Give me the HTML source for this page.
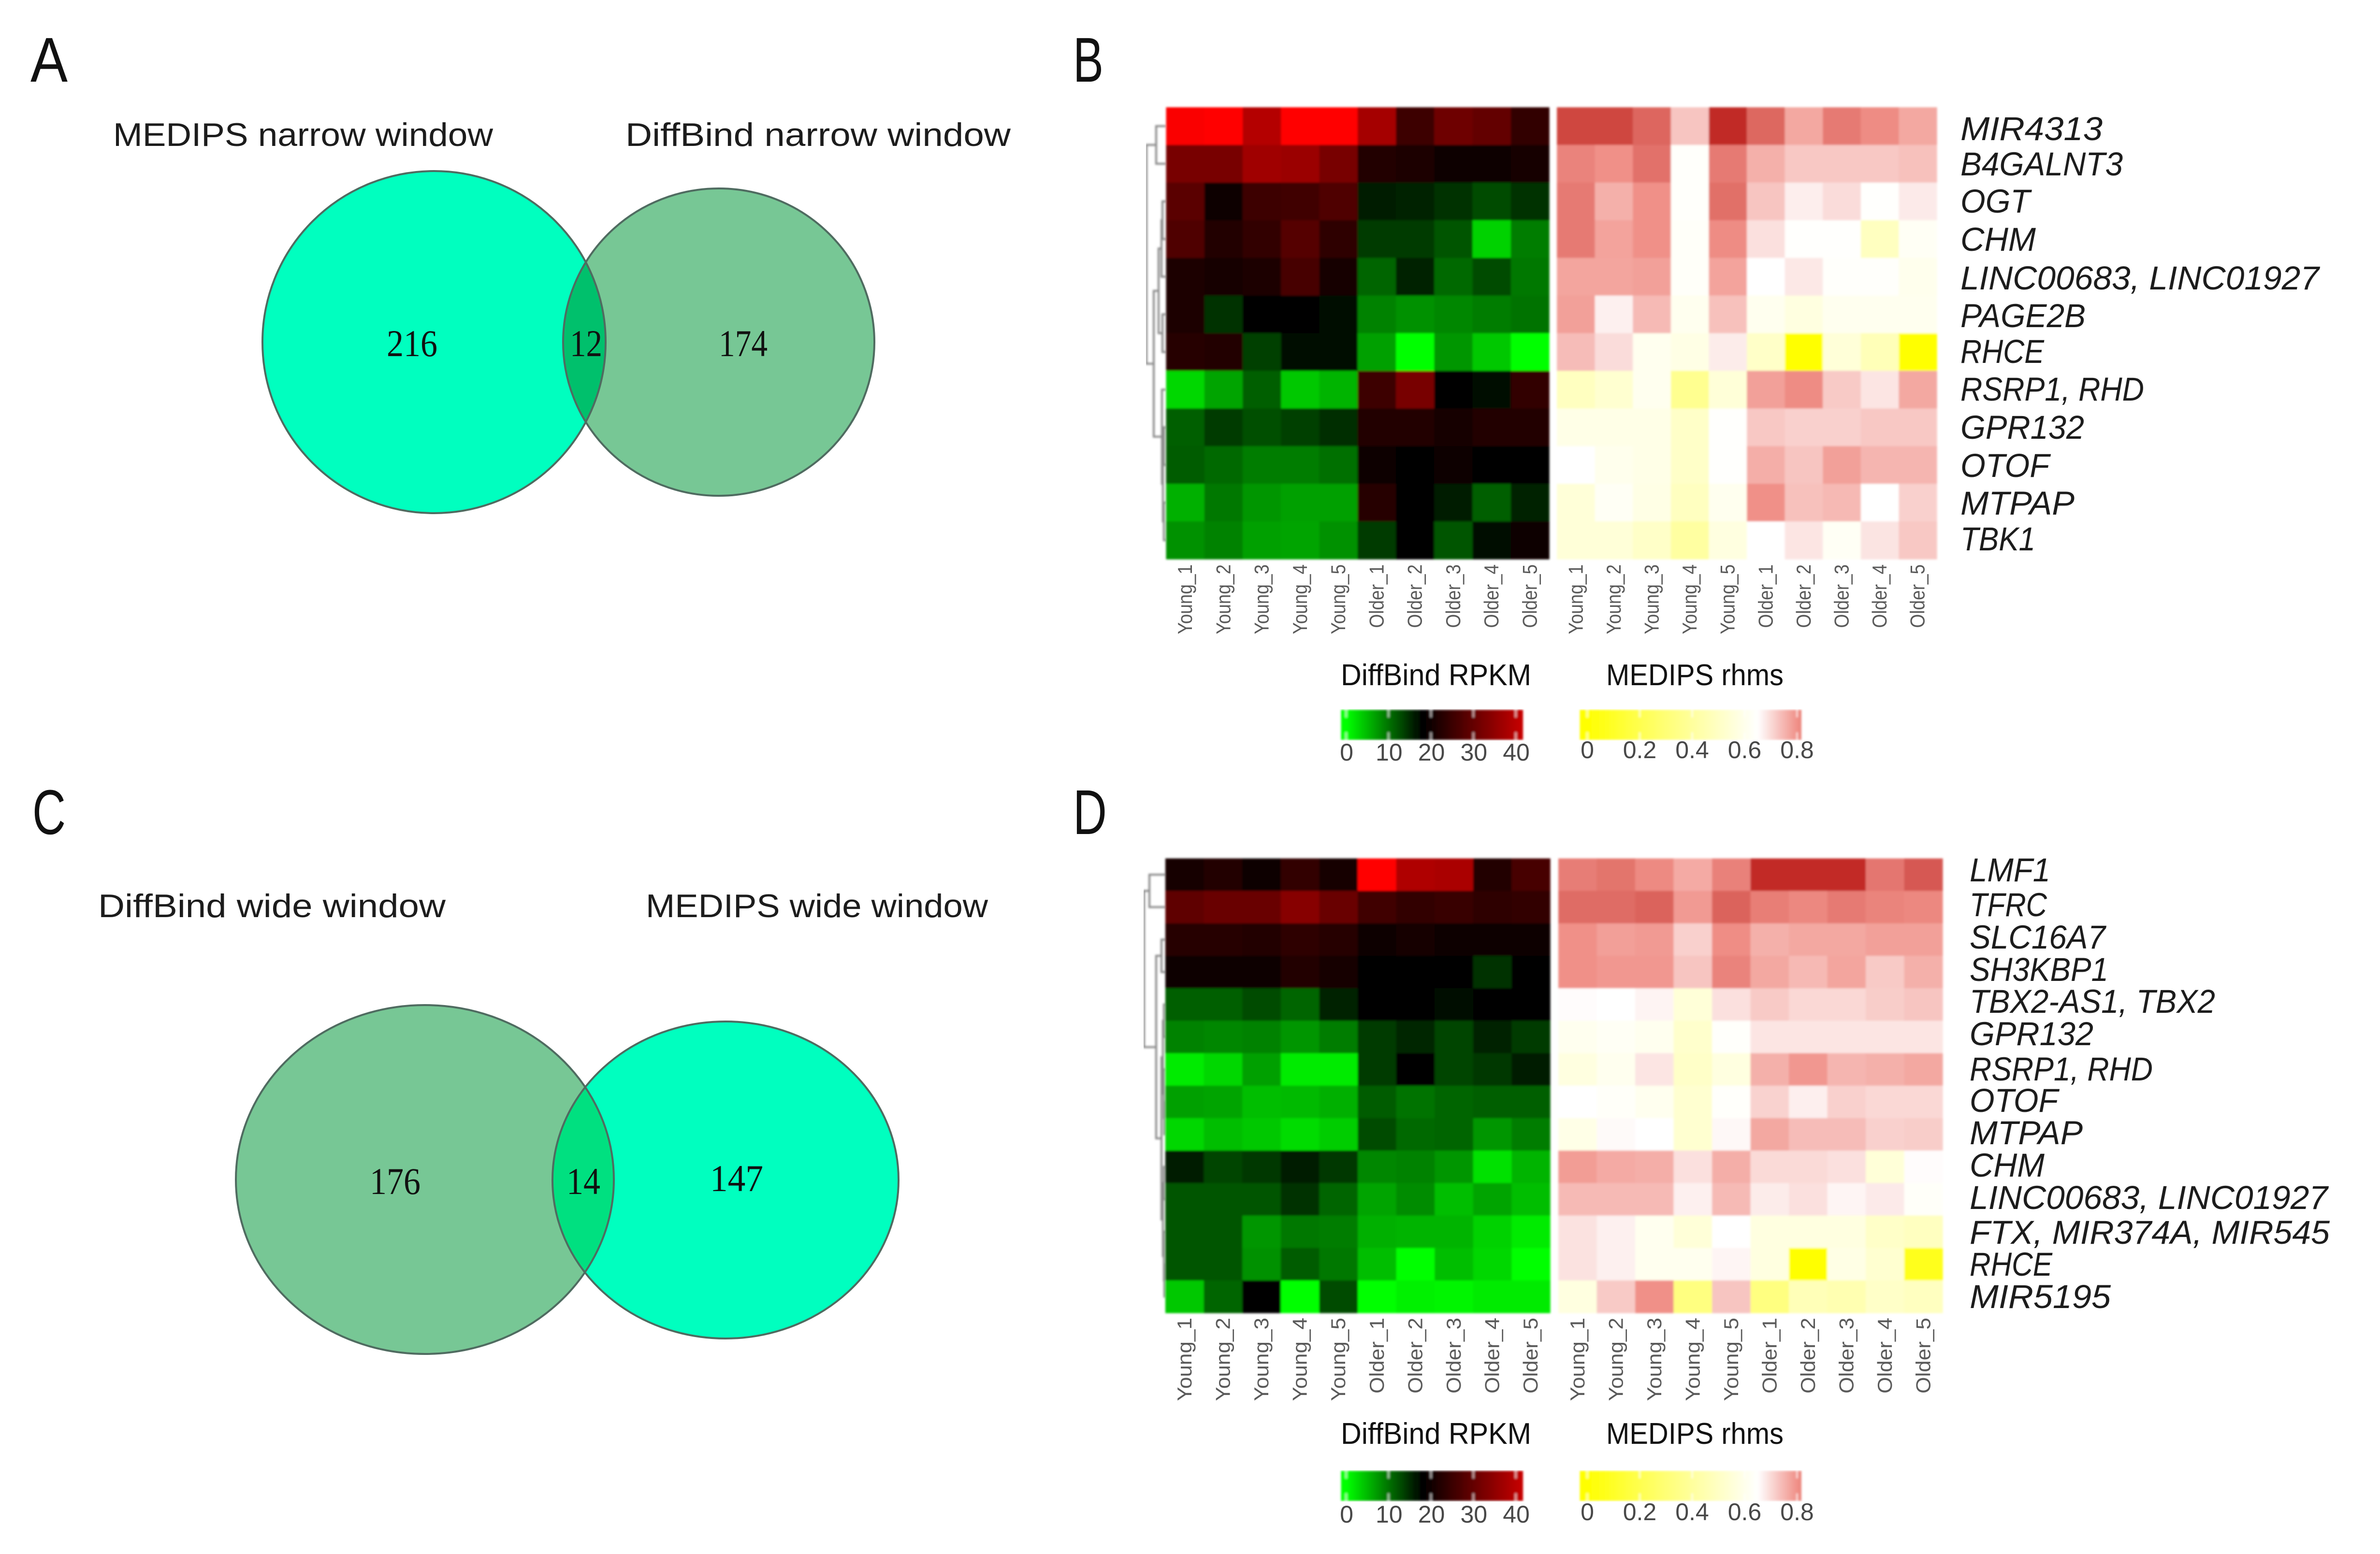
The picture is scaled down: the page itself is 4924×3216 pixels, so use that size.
<!DOCTYPE html>
<html lang="en">
<head>
<meta charset="utf-8">
<title>Venn diagrams and heatmaps of DiffBind and MEDIPS windows</title>
<style>
  html, body { margin: 0; padding: 0; background: #fff; }
  svg { display: block; }
  text { font-family: "Liberation Sans", sans-serif; }
  .panel-letter { font-size: 131px; fill: #111; }
  .venn-title { font-size: 68px; fill: #1c1c1c; }
  .venn-count { font-family: "Liberation Serif", serif; font-size: 78px; fill: #111; }
  .gene { font-size: 69px; font-style: italic; fill: #1c1c1c; }
  .legend-title { font-size: 62px; fill: #111; }
  .legend-tick { font-size: 50px; fill: #484848; text-anchor: middle; }
  .col-label { font-size: 42px; fill: #5a5a5a; text-anchor: end; }
</style>
</head>
<body>
<svg id="figure" xmlns="http://www.w3.org/2000/svg" width="4924" height="3216" viewBox="0 0 4924 3216">
  <defs>
    <filter id="soft" x="-2%" y="-2%" width="104%" height="104%"><feGaussianBlur stdDeviation="2.2"/></filter>
    <clipPath id="clip-a"><ellipse cx="898" cy="708" rx="355" ry="354"/></clipPath>
    <clipPath id="clip-c"><ellipse cx="879" cy="2441" rx="391" ry="361"/></clipPath>
  </defs>
  <rect width="4924" height="3216" fill="#fff"/>

  <text class="panel-letter" x="63" y="169" textLength="77" lengthAdjust="spacingAndGlyphs">A</text>
  <text class="panel-letter" x="2220" y="169" textLength="63" lengthAdjust="spacingAndGlyphs">B</text>
  <text class="panel-letter" x="67" y="1726" textLength="69" lengthAdjust="spacingAndGlyphs">C</text>
  <text class="panel-letter" x="2220" y="1726" textLength="70" lengthAdjust="spacingAndGlyphs">D</text>

  <!-- Venn A -->
  <g>
    <text class="venn-title" x="234" y="302" textLength="786" lengthAdjust="spacingAndGlyphs">MEDIPS narrow window</text>
    <text class="venn-title" x="1294" y="302" textLength="797" lengthAdjust="spacingAndGlyphs">DiffBind narrow window</text>
    <ellipse cx="898" cy="708" rx="355" ry="354" fill="#00ffbf"/>
    <ellipse cx="1487" cy="708" rx="322" ry="318" fill="#77c795"/>
    <ellipse cx="1487" cy="708" rx="322" ry="318" fill="#00c06c" clip-path="url(#clip-a)"/>
    <ellipse cx="898" cy="708" rx="355" ry="354" fill="none" stroke="#4f6b60" stroke-width="4"/>
    <ellipse cx="1487" cy="708" rx="322" ry="318" fill="none" stroke="#4f6b60" stroke-width="4"/>
    <text class="venn-count" x="800" y="737" textLength="105" lengthAdjust="spacingAndGlyphs">216</text>
    <text class="venn-count" x="1179" y="737" textLength="67" lengthAdjust="spacingAndGlyphs">12</text>
    <text class="venn-count" x="1487" y="737" textLength="101" lengthAdjust="spacingAndGlyphs">174</text>
  </g>

  <!-- Venn C -->
  <g>
    <text class="venn-title" x="203" y="1898" textLength="719" lengthAdjust="spacingAndGlyphs">DiffBind wide window</text>
    <text class="venn-title" x="1336" y="1898" textLength="708" lengthAdjust="spacingAndGlyphs">MEDIPS wide window</text>
    <ellipse cx="879" cy="2441" rx="391" ry="361" fill="#77c795"/>
    <ellipse cx="1501" cy="2442" rx="358" ry="328" fill="#00ffbf"/>
    <ellipse cx="1501" cy="2442" rx="358" ry="328" fill="#00e080" clip-path="url(#clip-c)"/>
    <ellipse cx="879" cy="2441" rx="391" ry="361" fill="none" stroke="#4f6b60" stroke-width="4"/>
    <ellipse cx="1501" cy="2442" rx="358" ry="328" fill="none" stroke="#4f6b60" stroke-width="4"/>
    <text class="venn-count" x="765" y="2471" textLength="105" lengthAdjust="spacingAndGlyphs">176</text>
    <text class="venn-count" x="1172" y="2471" textLength="70" lengthAdjust="spacingAndGlyphs">14</text>
    <text class="venn-count" x="1469" y="2465" textLength="110" lengthAdjust="spacingAndGlyphs">147</text>
  </g>

  <!-- Gene labels B -->
  <g>
    <text class="gene" x="4056" y="290" textLength="294" lengthAdjust="spacingAndGlyphs">MIR4313</text>
    <text class="gene" x="4056" y="363" textLength="336" lengthAdjust="spacingAndGlyphs">B4GALNT3</text>
    <text class="gene" x="4056" y="440" textLength="144" lengthAdjust="spacingAndGlyphs">OGT</text>
    <text class="gene" x="4056" y="519" textLength="156" lengthAdjust="spacingAndGlyphs">CHM</text>
    <text class="gene" x="4056" y="599" textLength="742" lengthAdjust="spacingAndGlyphs">LINC00683, LINC01927</text>
    <text class="gene" x="4056" y="677" textLength="259" lengthAdjust="spacingAndGlyphs">PAGE2B</text>
    <text class="gene" x="4056" y="751" textLength="173" lengthAdjust="spacingAndGlyphs">RHCE</text>
    <text class="gene" x="4056" y="829" textLength="380" lengthAdjust="spacingAndGlyphs">RSRP1, RHD</text>
    <text class="gene" x="4056" y="908" textLength="256" lengthAdjust="spacingAndGlyphs">GPR132</text>
    <text class="gene" x="4056" y="987" textLength="184" lengthAdjust="spacingAndGlyphs">OTOF</text>
    <text class="gene" x="4056" y="1065" textLength="236" lengthAdjust="spacingAndGlyphs">MTPAP</text>
    <text class="gene" x="4056" y="1139" textLength="155" lengthAdjust="spacingAndGlyphs">TBK1</text>
  </g>

  <!-- Gene labels D -->
  <g>
    <text class="gene" x="4075" y="1824" textLength="167" lengthAdjust="spacingAndGlyphs">LMF1</text>
    <text class="gene" x="4075" y="1896" textLength="160" lengthAdjust="spacingAndGlyphs">TFRC</text>
    <text class="gene" x="4075" y="1963" textLength="281" lengthAdjust="spacingAndGlyphs">SLC16A7</text>
    <text class="gene" x="4075" y="2030" textLength="287" lengthAdjust="spacingAndGlyphs">SH3KBP1</text>
    <text class="gene" x="4075" y="2096" textLength="508" lengthAdjust="spacingAndGlyphs">TBX2-AS1, TBX2</text>
    <text class="gene" x="4075" y="2163" textLength="256" lengthAdjust="spacingAndGlyphs">GPR132</text>
    <text class="gene" x="4075" y="2236" textLength="379" lengthAdjust="spacingAndGlyphs">RSRP1, RHD</text>
    <text class="gene" x="4075" y="2301" textLength="183" lengthAdjust="spacingAndGlyphs">OTOF</text>
    <text class="gene" x="4075" y="2368" textLength="234" lengthAdjust="spacingAndGlyphs">MTPAP</text>
    <text class="gene" x="4075" y="2435" textLength="155" lengthAdjust="spacingAndGlyphs">CHM</text>
    <text class="gene" x="4075" y="2502" textLength="741" lengthAdjust="spacingAndGlyphs">LINC00683, LINC01927</text>
    <text class="gene" x="4075" y="2574" textLength="745" lengthAdjust="spacingAndGlyphs">FTX, MIR374A, MIR545</text>
    <text class="gene" x="4075" y="2640" textLength="171" lengthAdjust="spacingAndGlyphs">RHCE</text>
    <text class="gene" x="4075" y="2707" textLength="292" lengthAdjust="spacingAndGlyphs">MIR5195</text>
  </g>

  <!-- Legend titles -->
  <text class="legend-title" x="2774" y="1418" textLength="394" lengthAdjust="spacingAndGlyphs">DiffBind RPKM</text>
  <text class="legend-title" x="3323" y="1418" textLength="367" lengthAdjust="spacingAndGlyphs">MEDIPS rhms</text>
  <text class="legend-title" x="2774" y="2988" textLength="394" lengthAdjust="spacingAndGlyphs">DiffBind RPKM</text>
  <text class="legend-title" x="3323" y="2988" textLength="367" lengthAdjust="spacingAndGlyphs">MEDIPS rhms</text>
</svg>

<script>
// ---- Data ----
const columnLabels = ["Young_1","Young_2","Young_3","Young_4","Young_5","Older_1","Older_2","Older_3","Older_4","Older_5"];

const diffbindTicks = [0, 10, 20, 30, 40];
const medipsTicks = [0, 0.2, 0.4, 0.6, 0.8];

// Panel B: DiffBind RPKM, narrow window (12 genes x 10 samples)
const diffbindNarrow = [
  [47.4,48,39.2,48,48,37.4,25.1,30.9,29.8,23.9],
  [32.1,32.1,36.8,36.2,32.1,22.1,21.5,19.2,18.9,20.9],
  [28.6,18.9,25.1,25.6,27.4,15.9,15.5,14.5,12.7,14.5],
  [27.4,22.1,23.9,28,23.3,13.8,13.8,12,3.2,9.2],
  [21.5,20.9,21.5,26.2,20.4,10.9,15.5,10.6,12.7,9.5],
  [21.5,14.5,18,18,16.9,8.8,7.8,8.5,9.2,9.9],
  [22.7,22.1,13.4,17.3,16.9,6.7,0,7.4,3.9,0],
  [2.8,6.4,11.3,3.9,5.3,25.1,32.1,18,16.9,23.9],
  [11.3,13.8,12.4,13.4,14.8,22.1,22.1,20.4,22.1,22.1],
  [11.6,10.6,9.2,9.2,10.2,18.9,18,19.8,18.6,18.4],
  [5.6,9.5,7.4,6.7,6.7,22.7,17.6,16.2,11.3,15.5],
  [7.8,8.8,6.7,6.4,7.8,13.8,18,12,16.9,19.8]
];

// Panel B: MEDIPS rhms, narrow window
const medipsNarrow = [
  [.90,.90,.858,.728,.94,.857,.768,.83,.806,.768],
  [.818,.80,.843,.64,.83,.757,.724,.724,.724,.734],
  [.83,.757,.80,.64,.845,.728,.673,.697,.645,.678],
  [.83,.775,.80,.635,.805,.692,.645,.645,.49,.625],
  [.772,.772,.778,.635,.775,.65,.681,.64,.64,.605],
  [.778,.67,.743,.61,.734,.61,.57,.61,.61,.61],
  [.74,.697,.61,.585,.676,.51,0,.55,.47,0],
  [.49,.53,.61,.367,.55,.778,.805,.722,.685,.768],
  [.59,.59,.59,.51,.645,.724,.713,.713,.724,.724],
  [.65,.605,.59,.51,.645,.76,.728,.778,.75,.75],
  [.55,.625,.585,.49,.61,.80,.734,.745,.65,.713],
  [.55,.55,.51,.41,.57,.65,.685,.625,.687,.724]
];

// Panel D: DiffBind RPKM, wide window (14 genes x 10 samples)
const diffbindWide = [
  [20.9,22.1,19.8,23.9,20.9,48,38.6,38,22.1,26.2],
  [29.2,30.3,30.3,33.9,30.3,25.6,23.9,24.5,23.3,23.9],
  [22.7,22.7,22.1,23.3,22.7,19.4,20.4,19.2,19.4,19.4],
  [19.2,19.8,19.8,22.1,20.9,18.4,18,18,14.5,17.8],
  [11.3,11.3,12.7,10.9,15.5,18.6,17.8,16.9,18,18.4],
  [8.8,8.5,8.8,7.4,9.2,13.8,15.2,13.1,15.5,13.8],
  [1.4,2.8,6.7,1.4,1.4,13.8,18.4,13.1,14.1,16.2],
  [6.7,6.4,4.6,4.9,5.6,11.6,9.9,10.9,11.3,11.3],
  [2.8,4.6,3.9,2.5,3.5,12.7,10.6,10.9,7.4,9.2],
  [15.9,13.1,14.1,15.9,14.1,8.5,8.8,7.4,2.1,5.3],
  [12,12,12,14.5,10.9,6.4,8.1,4.6,6.4,4.6],
  [12,12,7.4,9.5,9.2,5.6,5.3,5.3,3.2,1.4],
  [12,12,7.8,11.6,9.5,4.6,0,4.6,2.8,0],
  [3.9,10.9,18.4,0,12.7,0,1,0.7,1.4,1.4]
];

// Panel D: MEDIPS rhms, wide window
const medipsWide = [
  [.826,.839,.808,.765,.82,.938,.938,.938,.836,.877],
  [.85,.85,.862,.786,.862,.825,.811,.83,.817,.811],
  [.80,.78,.786,.713,.804,.757,.768,.768,.778,.778],
  [.80,.79,.79,.728,.818,.768,.745,.772,.722,.757],
  [.654,.65,.665,.55,.692,.722,.703,.703,.718,.728],
  [.61,.625,.61,.52,.64,.685,.685,.685,.685,.685],
  [.57,.61,.685,.51,.57,.757,.79,.75,.757,.768],
  [.65,.635,.61,.53,.64,.711,.672,.713,.703,.703],
  [.59,.657,.65,.53,.66,.768,.74,.74,.713,.718],
  [.783,.765,.76,.692,.76,.70,.70,.692,.55,.654],
  [.743,.743,.743,.67,.743,.676,.692,.664,.678,.635],
  [.689,.67,.61,.55,.65,.57,.57,.57,.51,.49],
  [.689,.67,.61,.61,.664,.57,0,.585,.53,.08],
  [.57,.722,.80,.327,.728,.327,.47,.45,.51,.49]
];

// Row dendrograms: [mergeHeight, childA, childB]; a bare number is a row index
const dendrogramNarrow = [40,[20,0,1],[25,[15,[9,[7,2,3],4],[7,5,6]],[8,7,[6,[4,8,9],[4,10,11]]]]];
const dendrogramWide = [44,[33,0,1],[19,[8,2,3],[8,[5,[3,4,5],[3,6,[2,7,8]]],[5,[3,9,10],[3,11,[2,12,13]]]]]];

// ---- Helpers ----
const svg = document.getElementById('figure');
const NS = 'http://www.w3.org/2000/svg';

function make(tag, attrs, parent) {
  const node = document.createElementNS(NS, tag);
  for (const key in attrs) node.setAttribute(key, attrs[key]);
  parent.appendChild(node);
  return node;
}
function linear(d0, d1, r0, r1) {
  return v => r0 + (v - d0) * (r1 - r0) / (d1 - d0);
}
function rgb(r, g, b) {
  return 'rgb(' + Math.round(r) + ',' + Math.round(g) + ',' + Math.round(b) + ')';
}
function clamp(v, lo, hi) { return Math.max(lo, Math.min(hi, v)); }

// green -> black -> red
function diffbindColor(v) {
  const x = clamp(v, 0, 48);
  if (x < 18) return rgb(0, (18 - x) * 255 / 18, 0);
  return rgb((x - 18) * 255 / 30, 0, 0);
}
// yellow -> white -> pink -> dark red
function medipsColor(v) {
  const x = clamp(v, 0, 0.95);
  if (x <= 0.65) return rgb(255, 255, 255 * x / 0.65);
  if (x <= 0.8) {
    const t = (x - 0.65) / 0.15;
    return rgb(255 - 15 * t, 255 - 111 * t, 255 - 119 * t);
  }
  const t = (x - 0.8) / 0.15;
  return rgb(240 - 50 * t, 144 - 109 * t, 136 - 106 * t);
}

function drawHeatmap(panel, series, matrix, colorFn, box) {
  const rows = matrix.length, cols = matrix[0].length;
  const xBand = linear(0, cols, box.x0, box.x1);
  const yBand = linear(0, rows, box.y0, box.y1);
  const group = make('g', { filter: 'url(#soft)' }, svg);
  
  
  matrix.forEach((row, r) => {
    row.forEach((value, c) => {
      const cell = make('rect', {
        x: xBand(c), y: yBand(r),
        width: xBand(c + 1) - xBand(c) + 0.6,
        height: yBand(r + 1) - yBand(r) + 0.6,
        fill: colorFn(value)
      }, group);
      
      
    });
  });
}

function drawColumnLabels(panel, series, box, yTop, squeeze) {
  const xBand = linear(0, columnLabels.length, box.x0, box.x1);
  columnLabels.forEach((label, c) => {
    const base = (xBand(c) + xBand(c + 1)) / 2 + 14;
    const t = make('text', {
      class: 'col-label',
      transform: 'translate(' + base + ',' + yTop + ') rotate(-90) scale(' + squeeze + ',1)'
    }, svg);
    t.textContent = label;
    
    
  });
}

function drawDendrogram(panel, tree, rowCount, box, xRight) {
  const yBand = linear(0, rowCount, box.y0, box.y1);
  const group = make('g', { fill: 'none', stroke: '#8a8a8a', 'stroke-width': 4, filter: 'url(#soft)' }, svg);
  
  
  function walk(node) {
    if (typeof node === 'number') return { x: xRight, y: yBand(node + 0.5) };
    const a = walk(node[1]);
    const b = walk(node[2]);
    const x = xRight - node[0];
    const branch = make('path', {
      d: 'M' + a.x + ' ' + a.y + 'H' + x + 'V' + b.y + 'H' + b.x
    }, group);
    
    
    return { x: x, y: (a.y + b.y) / 2 };
  }
  walk(tree);
}

function drawLegend(panel, series, colorFn, ticks, cfg) {
  const vFirst = ticks[0], vLast = ticks[ticks.length - 1];
  const xOf = linear(vFirst, vLast, cfg.tick0, cfg.tickN);
  const valueOf = linear(cfg.tick0, cfg.tickN, vFirst, vLast);
  const group = make('g', { filter: 'url(#soft)' }, svg);
  
  
  for (let x = cfg.x0; x < cfg.x1; x += 4) {
    const strip = make('rect', {
      x: x, y: cfg.y0, width: Math.min(4.6, cfg.x1 - x), height: cfg.y1 - cfg.y0,
      fill: colorFn(valueOf(x + 2))
    }, group);
    
    
  }
  ticks.forEach(v => {
    const x = xOf(v) + cfg.markOffset;
    const len = (cfg.y1 - cfg.y0) * 0.25;
    [[cfg.y0, len], [cfg.y1 - len, len]].forEach(seg => {
      const mark = make('rect', { x: x - 2, y: seg[0], width: 4, height: seg[1], fill: 'rgba(255,255,255,0.6)' }, group);
      
      
    });
    const label = make('text', { class: 'legend-tick', x: xOf(v), y: cfg.labelY }, svg);
    label.textContent = String(v);
    
    
  });
}

// ---- Panel B ----
const boxBLeft = { x0: 2412.5, x1: 3205, y0: 222, y1: 1157 };
const boxBRight = { x0: 3221, x1: 4007, y0: 222, y1: 1157 };
drawDendrogram('b', dendrogramNarrow, diffbindNarrow.length, boxBLeft, 2412);
drawHeatmap('b', 'diffbind', diffbindNarrow, diffbindColor, boxBLeft);
drawHeatmap('b', 'medips', medipsNarrow, medipsColor, boxBRight);
drawColumnLabels('b', 'diffbind', boxBLeft, 1168, 0.88);
drawColumnLabels('b', 'medips', boxBRight, 1168, 0.88);
drawLegend('b', 'diffbind', diffbindColor, diffbindTicks, { x0: 2774.5, x1: 3151, y0: 1469, y1: 1531, tick0: 2786, tickN: 3137, labelY: 1574, markOffset: -1 });
drawLegend('b', 'medips', medipsColor, medipsTicks, { x0: 3268.5, x1: 3727, y0: 1469, y1: 1531, tick0: 3284, tickN: 3718, labelY: 1569, markOffset: 0 });

// ---- Panel D ----
const boxDLeft = { x0: 2411, x1: 3207, y0: 1776.5, y1: 2717 };
const boxDRight = { x0: 3224, x1: 4019, y0: 1776.5, y1: 2717 };
drawDendrogram('d', dendrogramWide, diffbindWide.length, boxDLeft, 2411);
drawHeatmap('d', 'diffbind', diffbindWide, diffbindColor, boxDLeft);
drawHeatmap('d', 'medips', medipsWide, medipsColor, boxDRight);
drawColumnLabels('d', 'diffbind', boxDLeft, 2727, 1.05);
drawColumnLabels('d', 'medips', boxDRight, 2727, 1.05);
drawLegend('d', 'diffbind', diffbindColor, diffbindTicks, { x0: 2774.5, x1: 3151, y0: 3044, y1: 3106, tick0: 2786, tickN: 3137, labelY: 3151, markOffset: -1 });
drawLegend('d', 'medips', medipsColor, medipsTicks, { x0: 3268.5, x1: 3727, y0: 3044, y1: 3106, tick0: 3284, tickN: 3718, labelY: 3146, markOffset: 0 });
</script>
</body>
</html>
